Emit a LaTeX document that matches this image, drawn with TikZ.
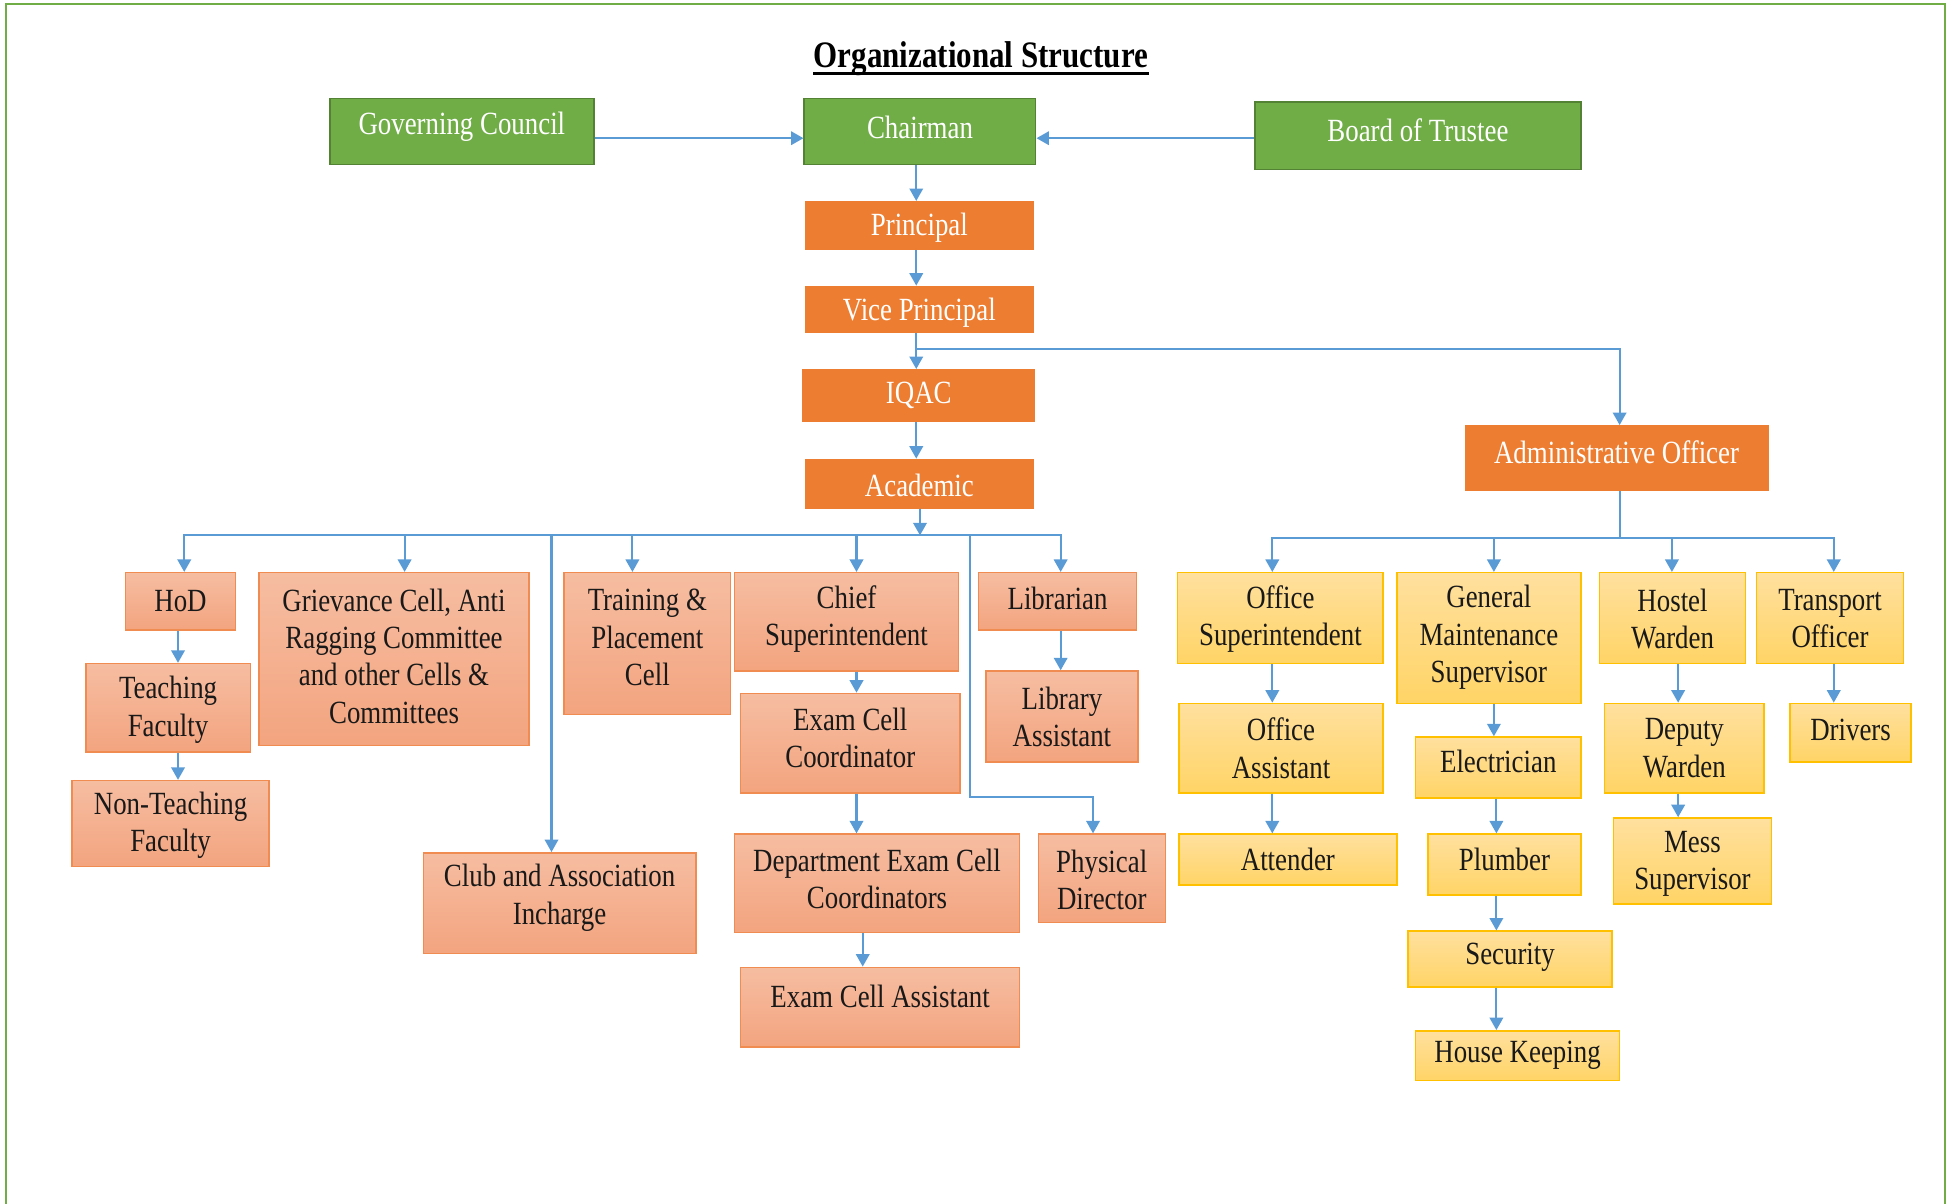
\documentclass[tikz,border=0pt]{standalone}
\usepackage{fontspec}
\setmainfont{Liberation Serif}[FakeStretch=0.83]
\usetikzlibrary{fit,arrows.meta,calc}
\definecolor{gfill}{HTML}{70AD47}
\definecolor{gdraw}{HTML}{548235}
\definecolor{ofill}{HTML}{ED7D31}
\definecolor{stop}{HTML}{F6BDA1}
\definecolor{sbot}{HTML}{F3A47F}
\definecolor{sdraw}{HTML}{F08C52}
\definecolor{ytop}{HTML}{FFE09E}
\definecolor{ybot}{HTML}{FFD466}
\definecolor{ydraw}{HTML}{FFC000}
\definecolor{bl}{HTML}{5B9BD5}
\definecolor{frame}{HTML}{70AD47}
\newcommand\bx[8]{\node[#1box, fit={(#3,#4) (#5,#6)}] (#2) {};
  \node[#1txt] (#2-t) at ({(#3+#5)/2},#7) {#8};}
\begin{document}
\begin{tikzpicture}[x=0.6pt,y=-0.6pt,
  base/.style={rectangle, inner sep=0pt, line width=0.7pt},
  gbox/.style={base, fill=gfill, draw=gdraw},
  obox/.style={base, fill=ofill, draw=ofill},
  sbox/.style={base, top color=stop, bottom color=sbot, draw=sdraw},
  ybox/.style={base, top color=ytop, bottom color=ybot, draw=ydraw},
  txtbase/.style={align=center, inner sep=0pt, font=\fontsize{15.6}{18}\selectfont},
  gtxt/.style={txtbase, text=white},
  otxt/.style={txtbase, text=white},
  stxt/.style={txtbase, text=black!90},
  ytxt/.style={txtbase, text=black!90},
  conn/.style={draw=bl, line width=1pt, -{Triangle[length=6pt,width=6.5pt]}}
]
\useasboundingbox (0,0) rectangle (1568,967);
\draw[frame, line width=1pt] (5,990) -- (5,3) -- (1562,3) -- (1562,990);

\node[font=\fontsize{18}{21}\selectfont\bfseries, inner sep=0pt] (title) at (788,47) {Organizational Structure};
\draw[line width=1.1pt] ([yshift=-3pt]title.base west) -- ([yshift=-3pt]title.base east);

% green
\bx{g}{gc}{265}{79}{477}{132}{102}{Governing Council}
\bx{g}{ch}{646}{79}{832}{132}{102}{Chairman}
\bx{g}{bt}{1008}{82}{1270}{136}{105}{Board of Trustee}
% orange
\bx{o}{pr}{647}{162}{830}{200}{183}{Principal}
\bx{o}{vp}{647}{230}{830}{267}{251}{Vice Principal}
\bx{o}{iq}{645}{297}{831}{338}{318}{IQAC}
\bx{o}{ac}{647}{369}{830}{408}{390}{Academic}
\bx{o}{ao}{1177}{342}{1420}{394}{363}{Administrative Officer}
% salmon
\bx{s}{hod}{101}{460}{189}{506}{483}{HoD}
\bx{s}{tf}{69}{533}{201}{604}{570}{Teaching\\Faculty}
\bx{s}{ntf}{58}{627}{216}{696}{663}{Non-Teaching\\Faculty}
\bx{s}{gr}{208}{460}{425}{599}{527}{Grievance Cell, Anti\\Ragging Committee\\and other Cells \&\\Committees}
\bx{s}{tp}{453}{460}{587}{574}{512}{Training \&\\Placement\\Cell}
\bx{s}{cs}{590}{460}{770}{539}{497}{Chief\\Superintendent}
\bx{s}{ecc}{595}{557}{771}{637}{593}{Exam Cell\\Coordinator}
\bx{s}{decc}{590}{670}{819}{749}{706}{Department Exam Cell\\Coordinators}
\bx{s}{eca}{595}{777}{819}{841}{800}{Exam Cell Assistant}
\bx{s}{lib}{786}{460}{913}{506}{481}{Librarian}
\bx{s}{la}{792}{539}{914}{612}{576}{Library\\Assistant}
\bx{s}{pd}{834}{670}{936}{741}{707}{Physical\\Director}
\bx{s}{club}{340}{685}{559}{766}{721}{Club and Association\\Incharge}
% yellow
\bx{y}{os}{946}{460}{1111}{533}{497}{Office\\Superintendent}
\bx{y}{gms}{1122}{460}{1270}{565}{512}{General\\Maintenance\\Supervisor}
\bx{y}{hw}{1285}{460}{1402}{533}{497}{Hostel\\Warden}
\bx{y}{tro}{1411}{460}{1529}{533}{497}{Transport\\Officer}
\bx{y}{oa}{947}{565}{1111}{637}{601}{Office\\Assistant}
\bx{y}{att}{947}{670}{1122}{711}{690}{Attender}
\bx{y}{el}{1137}{592}{1270}{641}{612}{Electrician}
\bx{y}{pl}{1147}{670}{1270}{719}{690}{Plumber}
\bx{y}{sec}{1131}{748}{1295}{793}{769}{Security}
\bx{y}{hk}{1137}{828}{1301}{868}{848}{House Keeping}
\bx{y}{dw}{1289}{565}{1417}{637}{601}{Deputy\\Warden}
\bx{y}{ms}{1296}{657}{1423}{726}{694}{Mess\\Supervisor}
\bx{y}{dr}{1438}{565}{1535}{612}{586}{Drivers}

% columns / rows
\coordinate (xm) at (736,0);
\coordinate (xac) at (739,0);
\coordinate (yarr) at (0,111);
\coordinate (yvp) at (0,280);
\coordinate (xao) at (1301,0);
\coordinate (ybus) at (0,430);
\coordinate (yab) at (0,432);
\coordinate (xh1) at (148,0);
\coordinate (xh2) at (143,0);
\coordinate (xgr) at (325,0);
\coordinate (xcl) at (443,0);
\coordinate (xtp) at (508,0);
\coordinate (xcs) at (688,0);
\coordinate (xde) at (693,0);
\coordinate (xpd1) at (779,0);
\coordinate (xpd2) at (878,0);
\coordinate (ypd) at (0,640);
\coordinate (xlb) at (852,0);
\coordinate (xos) at (1022,0);
\coordinate (xgm) at (1200,0);
\coordinate (xpl) at (1202,0);
\coordinate (xhw) at (1343,0);
\coordinate (xdw) at (1348,0);
\coordinate (xto) at (1473,0);

% top
\draw[conn] (gc.east |- yarr) -- (ch.west |- yarr);
\draw[conn] (bt.west |- yarr) -- (ch.east |- yarr);
\draw[conn] (ch.south -| xm) -- (pr.north -| xm);
\draw[conn] (pr.south -| xm) -- (vp.north -| xm);
\draw[conn] (vp.south -| xm) -- (iq.north -| xm);
\draw[conn] (vp.south -| xm) |- (xao |- yvp) -- (ao.north -| xao);
\draw[conn] (iq.south -| xm) -- (ac.north -| xm);
\draw[conn] (ac.south -| xac) -- (xac |- ybus);
% academic branches
\draw[conn] (ac.south -| xac) |- (xh1 |- ybus) -- (hod.north -| xh1);
\draw[conn] (ac.south -| xac) |- (xgr |- ybus) -- (gr.north -| xgr);
\draw[conn] (ac.south -| xac) |- (xcl |- ybus) -- (club.north -| xcl);
\draw[conn] (ac.south -| xac) |- (xtp |- ybus) -- (tp.north -| xtp);
\draw[conn] (ac.south -| xac) |- (xcs |- ybus) -- (cs.north -| xcs);
\draw[conn] (ac.south -| xac) |- (xlb |- ybus) -- (lib.north -| xlb);
\draw[conn] (ac.south -| xac) |- (xpd1 |- ybus) -- (xpd1 |- ypd) -| (pd.north -| xpd2);
\draw[conn] (hod.south -| xh2) -- (tf.north -| xh2);
\draw[conn] (tf.south -| xh2) -- (ntf.north -| xh2);
\draw[conn] (cs.south -| xcs) -- (ecc.north -| xcs);
\draw[conn] (ecc.south -| xcs) -- (decc.north -| xcs);
\draw[conn] (decc.south -| xde) -- (eca.north -| xde);
\draw[conn] (lib.south -| xlb) -- (la.north -| xlb);
% admin branches
\draw[conn] (ao.south -| xao) |- (xos |- yab) -- (os.north -| xos);
\draw[conn] (ao.south -| xao) |- (xgm |- yab) -- (gms.north -| xgm);
\draw[conn] (ao.south -| xao) |- (xhw |- yab) -- (hw.north -| xhw);
\draw[conn] (ao.south -| xao) |- (xto |- yab) -- (tro.north -| xto);
\draw[conn] (os.south -| xos) -- (oa.north -| xos);
\draw[conn] (oa.south -| xos) -- (att.north -| xos);
\draw[conn] (gms.south -| xgm) -- (el.north -| xgm);
\draw[conn] (el.south -| xpl) -- (pl.north -| xpl);
\draw[conn] (pl.south -| xpl) -- (sec.north -| xpl);
\draw[conn] (sec.south -| xpl) -- (hk.north -| xpl);
\draw[conn] (hw.south -| xdw) -- (dw.north -| xdw);
\draw[conn] (dw.south -| xdw) -- (ms.north -| xdw);
\draw[conn] (tro.south -| xto) -- (dr.north -| xto);
\end{tikzpicture}
\end{document}
